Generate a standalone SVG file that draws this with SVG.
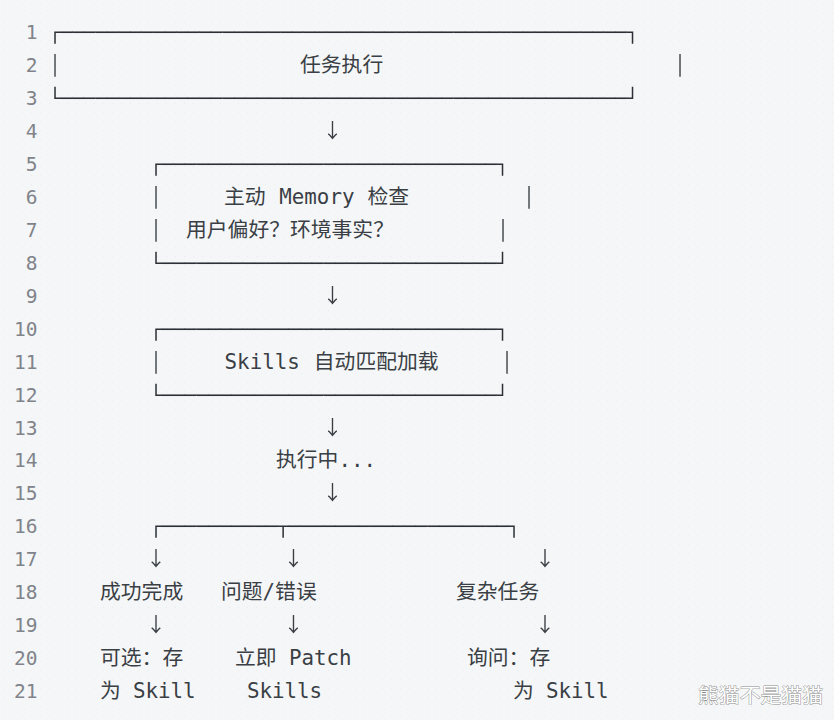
<svg xmlns="http://www.w3.org/2000/svg" width="834" height="720" viewBox="0 0 834 720">
<defs>
<pattern id="dots" width="9" height="9" patternUnits="userSpaceOnUse"><circle cx="4.5" cy="4.5" r="0.6" fill="#e7e9eb"/></pattern>
<filter id="gray" x="-5%" y="-40%" width="110%" height="180%"><feOffset dx="0" dy="0"/></filter>
</defs>
<style>
.ln{font-family:"DejaVu Sans Mono","Liberation Mono",monospace;font-size:19.5px;fill:#80848a;text-anchor:end}
.bx{font-family:"DejaVu Sans Mono","Liberation Mono",monospace;font-size:19.2px;fill:#2b3036;filter:url(#gray)}
.vb{font-family:"DejaVu Sans Mono","Liberation Mono",monospace;font-size:19.2px;fill:#4a4f55;text-anchor:middle;filter:url(#gray)}
.ar{font-family:"Noto Sans CJK SC","DejaVu Sans",sans-serif;font-size:20px;fill:#3a3f45;text-anchor:middle;filter:url(#gray)}
.t{font-family:"DejaVu Sans Mono","Noto Sans CJK SC",monospace;font-size:20.8px;fill:#3a3f45}
.wmk{font-family:"Noto Sans CJK SC",sans-serif;font-size:20px;fill:#ffffff;stroke:#8a8a8a;stroke-width:0.9px;paint-order:stroke;stroke-linejoin:round}
</style>
<rect width="834" height="720" fill="#f5f6f7"/>
<rect width="834" height="720" fill="url(#dots)"/>

<g id="line-numbers">
<text class="ln" x="37.5" y="39">1</text>
<text class="ln" x="37.5" y="71.96">2</text>
<text class="ln" x="37.5" y="104.92">3</text>
<text class="ln" x="37.5" y="137.88">4</text>
<text class="ln" x="37.5" y="170.84">5</text>
<text class="ln" x="37.5" y="203.8">6</text>
<text class="ln" x="37.5" y="236.76">7</text>
<text class="ln" x="37.5" y="269.72">8</text>
<text class="ln" x="37.5" y="302.68">9</text>
<text class="ln" x="37.5" y="335.64">10</text>
<text class="ln" x="37.5" y="368.6">11</text>
<text class="ln" x="37.5" y="401.56">12</text>
<text class="ln" x="37.5" y="434.52">13</text>
<text class="ln" x="37.5" y="467.48">14</text>
<text class="ln" x="37.5" y="500.44">15</text>
<text class="ln" x="37.5" y="533.4">16</text>
<text class="ln" x="37.5" y="566.36">17</text>
<text class="ln" x="37.5" y="599.32">18</text>
<text class="ln" x="37.5" y="632.28">19</text>
<text class="ln" x="37.5" y="665.24">20</text>
<text class="ln" x="37.5" y="698.2">21</text>
</g>

<g id="task-exec">
<text class="bx" x="49.2" y="39" textLength="589" lengthAdjust="spacingAndGlyphs">┌─────────────────────────────────────────────────┐</text>
<text class="vb" x="55" y="71.96">│</text>
<text class="t" x="300" y="71.96">任务执行</text>
<text class="vb" x="680" y="71.96">│</text>
<text class="bx" x="49.2" y="104.92" textLength="589" lengthAdjust="spacingAndGlyphs">└─────────────────────────────────────────────────┘</text>
</g>

<g id="memory-check">
<text class="bx" x="150.2" y="170.84" textLength="358" lengthAdjust="spacingAndGlyphs">┌─────────────────────────────┐</text>
<text class="vb" x="156" y="203.8">│</text>
<text class="t" y="203.8"><tspan x="224">主动</tspan><tspan x="279.3">Memory</tspan><tspan x="367.5">检查</tspan></text>
<text class="vb" x="529" y="203.8">│</text>
<text class="vb" x="156" y="236.76">│</text>
<text class="t" x="186" y="236.76">用户偏好？环境事实？</text>
<text class="vb" x="503" y="236.76">│</text>
<text class="bx" x="150.2" y="269.72" textLength="358" lengthAdjust="spacingAndGlyphs">└─────────────────────────────┘</text>
</g>

<g id="skills-load">
<text class="bx" x="150.2" y="335.64" textLength="358" lengthAdjust="spacingAndGlyphs">┌─────────────────────────────┐</text>
<text class="vb" x="156" y="368.6">│</text>
<text class="t" y="368.6"><tspan x="224.6">Skills</tspan><tspan x="313.8">自动匹配加载</tspan></text>
<text class="vb" x="507" y="368.6">│</text>
<text class="bx" x="150.2" y="401.56" textLength="358" lengthAdjust="spacingAndGlyphs">└─────────────────────────────┘</text>
</g>

<g id="executing">
<text class="t" x="276" y="467.48">执行中...</text>
</g>

<g id="success">
<text class="t" x="100" y="599.32">成功完成</text>
<text class="t" x="100" y="665.24">可选：存</text>
<text class="t" y="698.2"><tspan x="100">为</tspan><tspan x="133">Skill</tspan></text>
</g>

<g id="error">
<text class="t" x="221" y="599.32">问题/错误</text>
<text class="t" y="665.24"><tspan x="235">立即</tspan><tspan x="289">Patch</tspan></text>
<text class="t" x="247" y="698.2">Skills</text>
</g>

<g id="complex">
<text class="t" x="456" y="599.32">复杂任务</text>
<text class="t" x="467" y="665.24">询问：存</text>
<text class="t" y="698.2"><tspan x="513">为</tspan><tspan x="546">Skill</tspan></text>
</g>

<g id="connectors">
<text class="ar" x="332.5" y="137.88">↓</text>
<text class="ar" x="332.5" y="302.68">↓</text>
<text class="ar" x="332.5" y="434.52">↓</text>
<text class="ar" x="332.5" y="500.44">↓</text>
<text class="bx" x="150.2" y="533.4" textLength="369.6" lengthAdjust="spacingAndGlyphs">┌──────────┬───────────────────┐</text>
<text class="ar" x="156" y="566.36">↓</text>
<text class="ar" x="293.5" y="566.36">↓</text>
<text class="ar" x="545" y="566.36">↓</text>
<text class="ar" x="156" y="632.28">↓</text>
<text class="ar" x="293.5" y="632.28">↓</text>
<text class="ar" x="545" y="632.28">↓</text>
</g>

<text class="wmk" x="698" y="703" textLength="125" lengthAdjust="spacingAndGlyphs">熊猫不是猫猫</text>
</svg>
